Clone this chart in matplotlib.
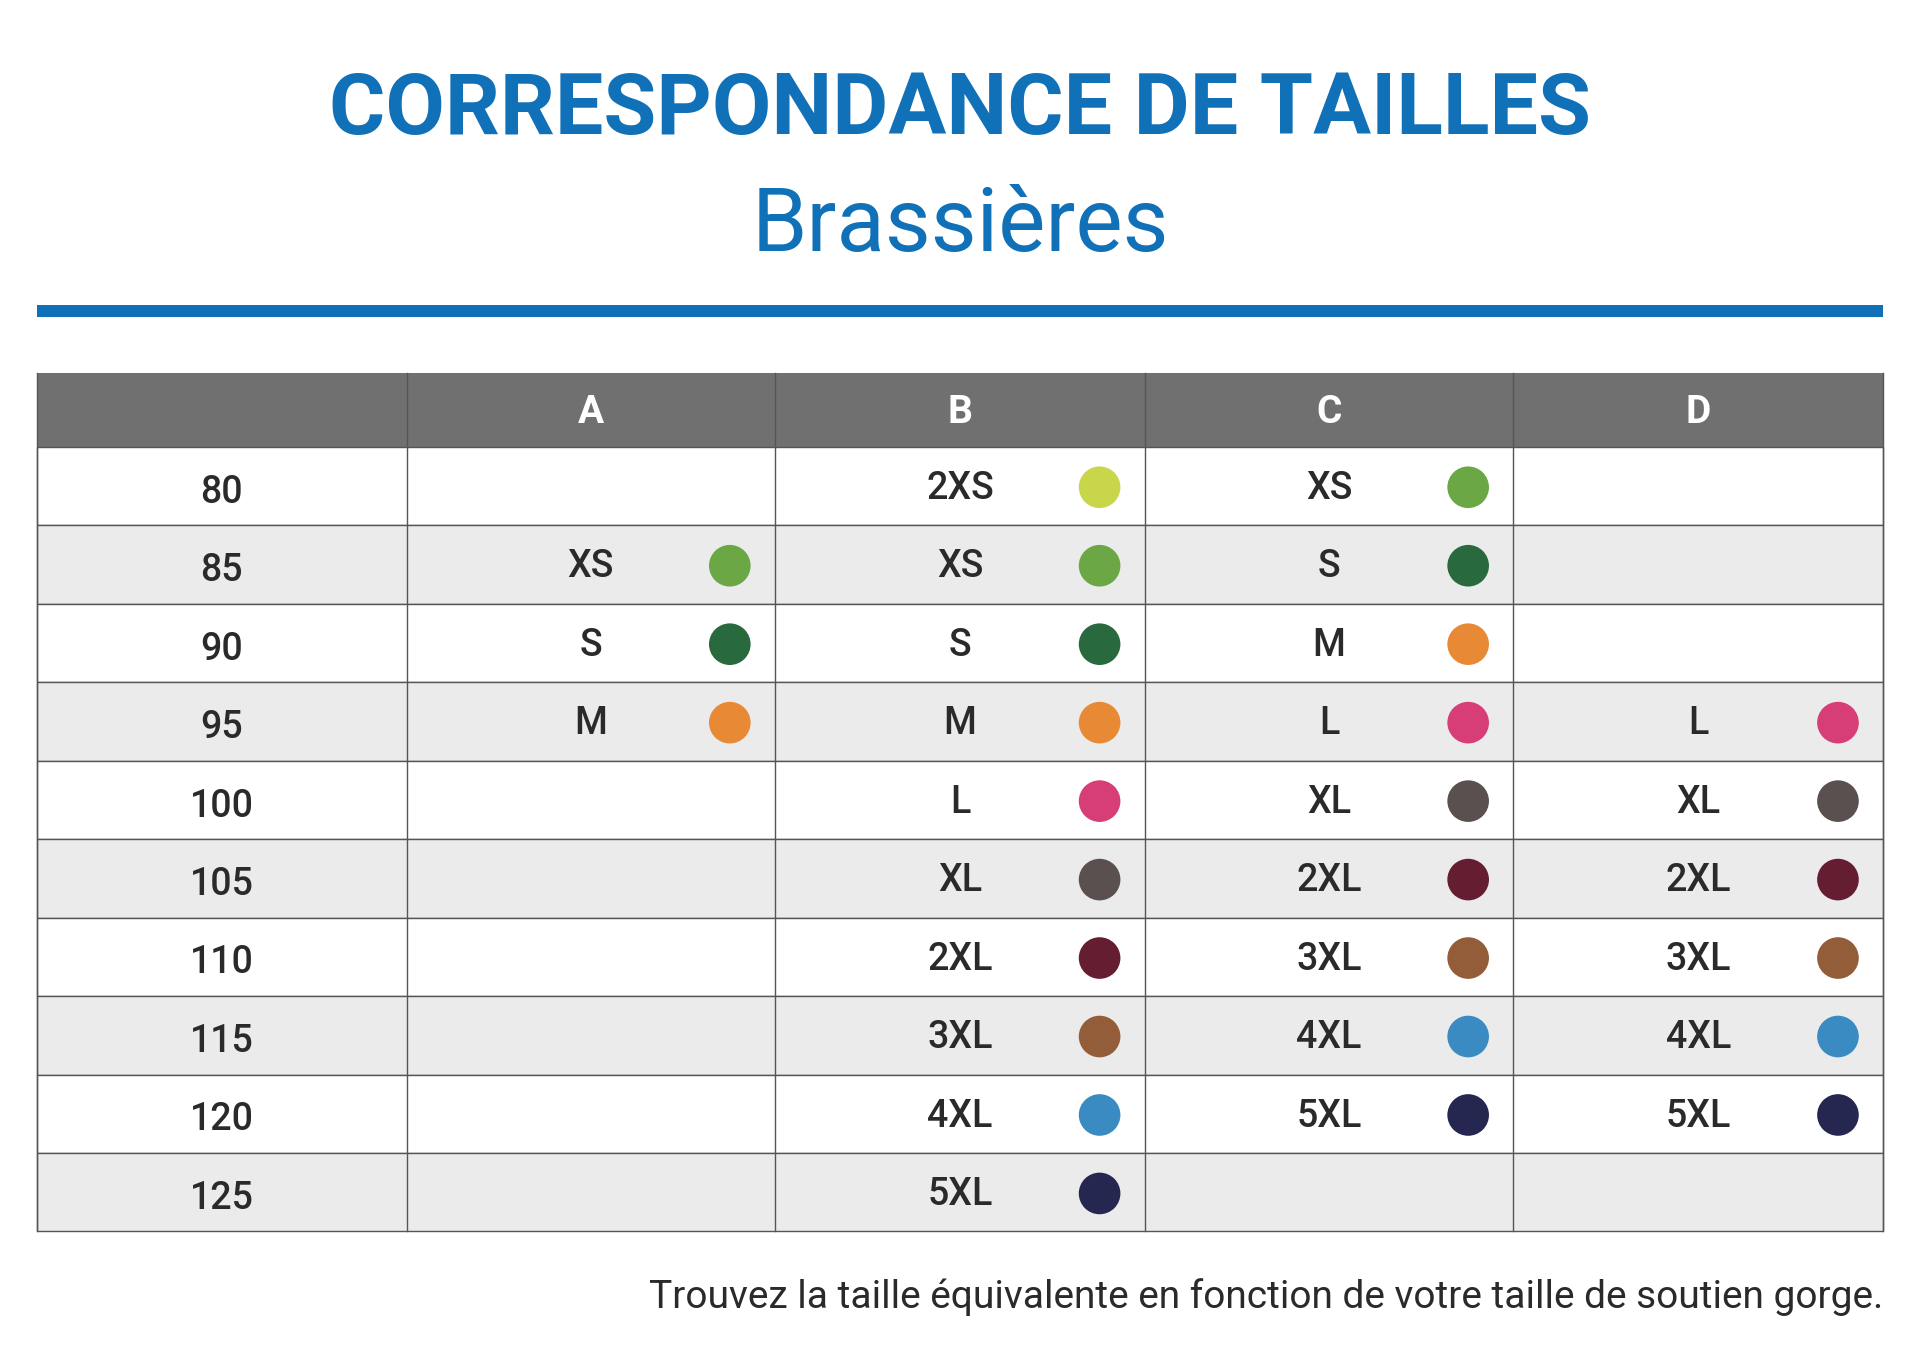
import matplotlib
matplotlib.use("Agg")
import matplotlib.pyplot as plt
from matplotlib.patches import Rectangle, Circle

bands = ["80", "85", "90", "95", "100", "105", "110", "115", "120", "125"]
cups = ["A", "B", "C", "D"]
sizes_A = ["", "XS", "S", "M", "", "", "", "", "", ""]
sizes_B = ["2XS", "XS", "S", "M", "L", "XL", "2XL", "3XL", "4XL", "5XL"]
sizes_C = ["XS", "S", "M", "L", "XL", "2XL", "3XL", "4XL", "5XL", ""]
sizes_D = ["", "", "", "L", "XL", "2XL", "3XL", "4XL", "5XL", ""]
size_colors = {"2XS": "#c8d64a", "XS": "#6ba744", "S": "#28693d", "M": "#e88a35",
               "L": "#d73d77", "XL": "#5a504f", "2XL": "#651d31", "3XL": "#925d38",
               "4XL": "#3a8bc1", "5XL": "#262751"}
title = "CORRESPONDANCE DE TAILLES"
subtitle = "Brassières"
footer = "Trouvez la taille équivalente en fonction de votre taille de soutien gorge."

W, H = 1568, 1120
fig = plt.figure(figsize=(19.2, 13.71), dpi=100)
ax = fig.add_axes([0, 0, 1, 1])
ax.set_xlim(0, W); ax.set_ylim(H, 0); ax.axis("off")
blue = "#1070b8"
ax.text(784, 90, title, ha="center", va="center", fontsize=62, fontweight="bold",
        color=blue, family="Roboto")
ax.text(784, 185, subtitle, ha="center", va="center", fontsize=64, color=blue, family="Roboto")
ax.add_patch(Rectangle((30, 249), 1508, 10, color=blue, lw=0))

xs = [30, 332, 633, 935, 1236, 1538]
top, hh, rh = 305, 60, 64.1
ax.add_patch(Rectangle((30, top), 1508, hh, color="#707070", lw=0))
for i, c in enumerate(cups):
    ax.text((xs[i+1]+xs[i+2])/2, top+hh/2+2, c, ha="center", va="center", color="white",
            fontsize=28, fontweight="bold", family="Roboto")
cols = [sizes_A, sizes_B, sizes_C, sizes_D]
for r, b in enumerate(bands):
    y0 = top+hh+r*rh
    ax.add_patch(Rectangle((30, y0), 1508, rh, facecolor="#ebebeb" if r % 2 else "white",
                           edgecolor="#555555", lw=1))
    ax.text(181, y0+rh/2+5, b, ha="center", va="center", fontsize=27, fontweight="medium",
            color="#2a2a2a", family="Roboto")
    for j, col in enumerate(cols):
        s = col[r]
        if s:
            cx = (xs[j+1]+xs[j+2])/2
            ax.text(cx, y0+rh/2+2, s, ha="center", va="center", fontsize=27, fontweight="medium",
                    color="#2a2a2a", family="Roboto")
            ax.add_patch(Circle((xs[j+2]-37, y0+rh/2+1), 17, color=size_colors[s], lw=0))
for x in xs:
    ax.plot([x, x], [top, top+hh+10*rh], color="#555555", lw=1)
ax.text(1538, 1060, footer, ha="right", va="center", fontsize=28, color="#2a2a2a", family="Roboto")
fig.savefig("out.png", dpi=100)
